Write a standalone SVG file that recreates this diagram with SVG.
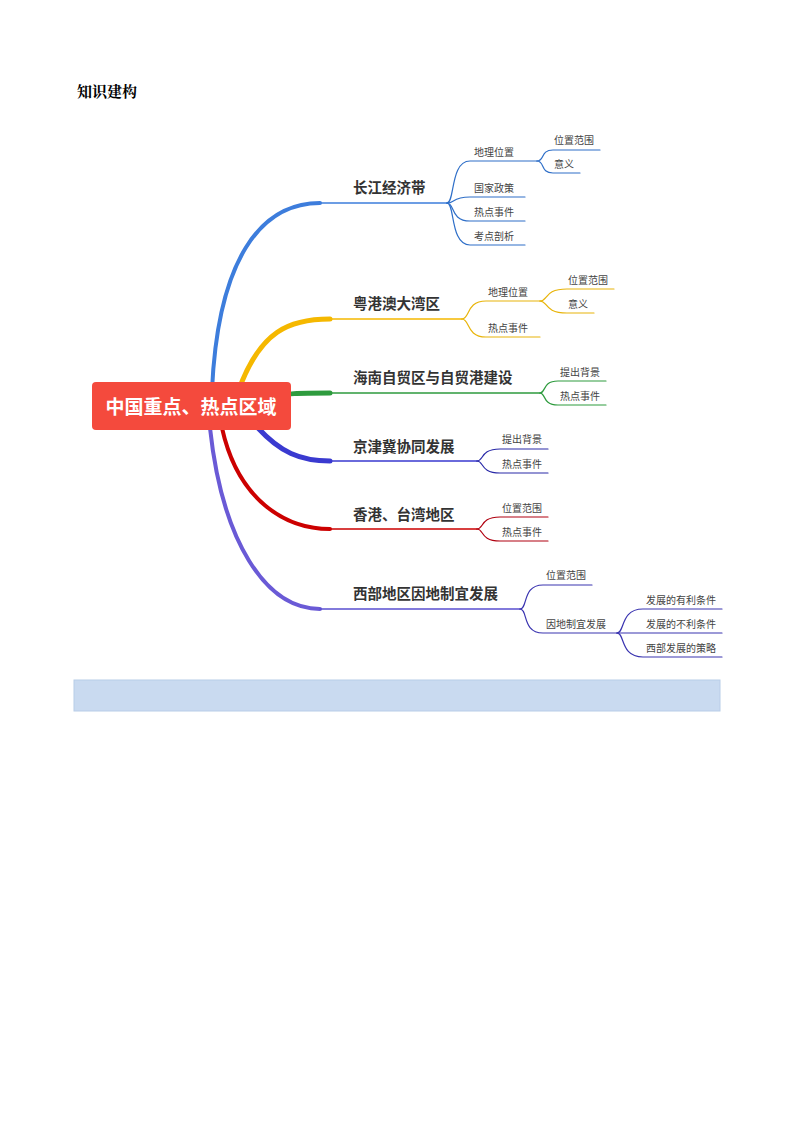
<svg xmlns="http://www.w3.org/2000/svg" width="794" height="1123" viewBox="0 0 794 1123">
<style>
.t{font-family:"Noto Sans CJK SC","Liberation Sans",sans-serif;fill:#333}
.m{font-size:14.5px;font-weight:bold}
.s{font-size:10px;fill:#444}
path{fill:none}
</style>
<rect width="794" height="1123" fill="#fff"/>
<text x="77" y="97" style="font-family:'Noto Serif CJK SC','Noto Sans CJK SC',serif;font-size:15px;font-weight:bold" fill="#000">知识建构</text>
<g id="connectors" stroke-linecap="round">
<path d="M212,390 C218,260 260,203 320,203" stroke="#3d7ddc" stroke-width="4"/>
<path d="M320,203 H447" stroke="#3d7ddc" stroke-width="1.4"/>
<path d="M238,392 C260,330 290,319 330,319" stroke="#f5b800" stroke-width="5"/>
<path d="M330,319 H462" stroke="#f5b800" stroke-width="1.4"/>
<path d="M268,398 C285,393 300,393 330,393" stroke="#2e9b3e" stroke-width="5"/>
<path d="M330,393 H540" stroke="#2e9b3e" stroke-width="1.4"/>
<path d="M258,428 C280,452 300,461 330,461" stroke="#3a3ad0" stroke-width="5"/>
<path d="M330,461 H477" stroke="#3a3ad0" stroke-width="1.4"/>
<path d="M222,428 C238,500 285,529 330,529" stroke="#cc0000" stroke-width="4"/>
<path d="M330,529 H477" stroke="#cc0000" stroke-width="1.4"/>
<path d="M210,428 C222,540 265,609 320,609" stroke="#6a5ad6" stroke-width="4"/>
<path d="M320,609 H520" stroke="#5a4fcf" stroke-width="1.4"/>
<g stroke="#2f6fc8" stroke-width="1.2">
<path d="M447,203 C455,203 450,161 470,161 H537"/>
<path d="M447,203 C455,203 452,197 470,197 H525"/>
<path d="M447,203 C455,203 450,221 470,221 H525"/>
<path d="M447,203 C455,203 450,245 470,245 H525"/>
<path d="M537,161 C545,161 540,150 553,150 H600"/>
<path d="M537,161 C545,161 540,173 553,173 H580"/>
</g>
<g stroke="#e8b40a" stroke-width="1.2">
<path d="M462,319 C470,319 466,301 486,301 H540"/>
<path d="M462,319 C470,319 466,337 486,337 H540"/>
<path d="M540,301 C548,301 544,289 567,289 H614"/>
<path d="M540,301 C548,301 544,313 567,313 H594"/>
</g>
<g stroke="#2e9b3e" stroke-width="1.2">
<path d="M540,393 C546,393 542,381 558,381 H606"/>
<path d="M540,393 C546,393 542,405 558,405 H606"/>
</g>
<g stroke="#2a2aa8" stroke-width="1.2">
<path d="M477,461 C484,461 480,449 500,449 H548"/>
<path d="M477,461 C484,461 480,473 500,473 H548"/>
</g>
<g stroke="#b00010" stroke-width="1.2">
<path d="M477,529 C484,529 480,517 500,517 H548"/>
<path d="M477,529 C484,529 480,541 500,541 H548"/>
</g>
<g stroke="#3a34b0" stroke-width="1.2">
<path d="M520,609 C528,609 522,585 543,585 H592"/>
<path d="M520,609 C528,609 522,633 543,633 H617"/>
<path d="M617,633 C625,633 620,609 643,609 H722"/>
<path d="M617,633 H722"/>
<path d="M617,633 C625,633 620,657 643,657 H722"/>
</g>
</g>
<g id="root">
<rect x="92" y="382" width="199" height="48" rx="4" fill="#f44a3d"/>
<text x="191" y="414" text-anchor="middle" class="t" style="font-size:19px;font-weight:bold;fill:#fff">中国重点、热点区域</text>
</g>
<g id="n1"><text x="353" y="193" class="t m">长江经济带</text></g>
<g id="n2"><text x="353" y="309" class="t m">粤港澳大湾区</text></g>
<g id="n3"><text x="353" y="383" class="t m">海南自贸区与自贸港建设</text></g>
<g id="n4"><text x="353" y="452" class="t m">京津冀协同发展</text></g>
<g id="n5"><text x="353" y="520" class="t m">香港、台湾地区</text></g>
<g id="n6"><text x="353" y="599" class="t m">西部地区因地制宜发展</text></g>
<g id="leaves" class="t s">
<text x="474" y="156" class="t s">地理位置</text>
<text x="474" y="192" class="t s">国家政策</text>
<text x="474" y="216" class="t s">热点事件</text>
<text x="474" y="240" class="t s">考点剖析</text>
<text x="554" y="144" class="t s">位置范围</text>
<text x="554" y="168" class="t s">意义</text>
<text x="488" y="296" class="t s">地理位置</text>
<text x="488" y="332" class="t s">热点事件</text>
<text x="568" y="284" class="t s">位置范围</text>
<text x="568" y="308" class="t s">意义</text>
<text x="560" y="376" class="t s">提出背景</text>
<text x="560" y="400" class="t s">热点事件</text>
<text x="502" y="443" class="t s">提出背景</text>
<text x="502" y="468" class="t s">热点事件</text>
<text x="502" y="512" class="t s">位置范围</text>
<text x="502" y="536" class="t s">热点事件</text>
<text x="546" y="579" class="t s">位置范围</text>
<text x="546" y="628" class="t s">因地制宜发展</text>
<text x="646" y="604" class="t s">发展的有利条件</text>
<text x="646" y="628" class="t s">发展的不利条件</text>
<text x="646" y="652" class="t s">西部发展的策略</text>
</g>
<rect x="74" y="680" width="646" height="31" fill="#c9daf0" stroke="#b8cde8"/>
</svg>
